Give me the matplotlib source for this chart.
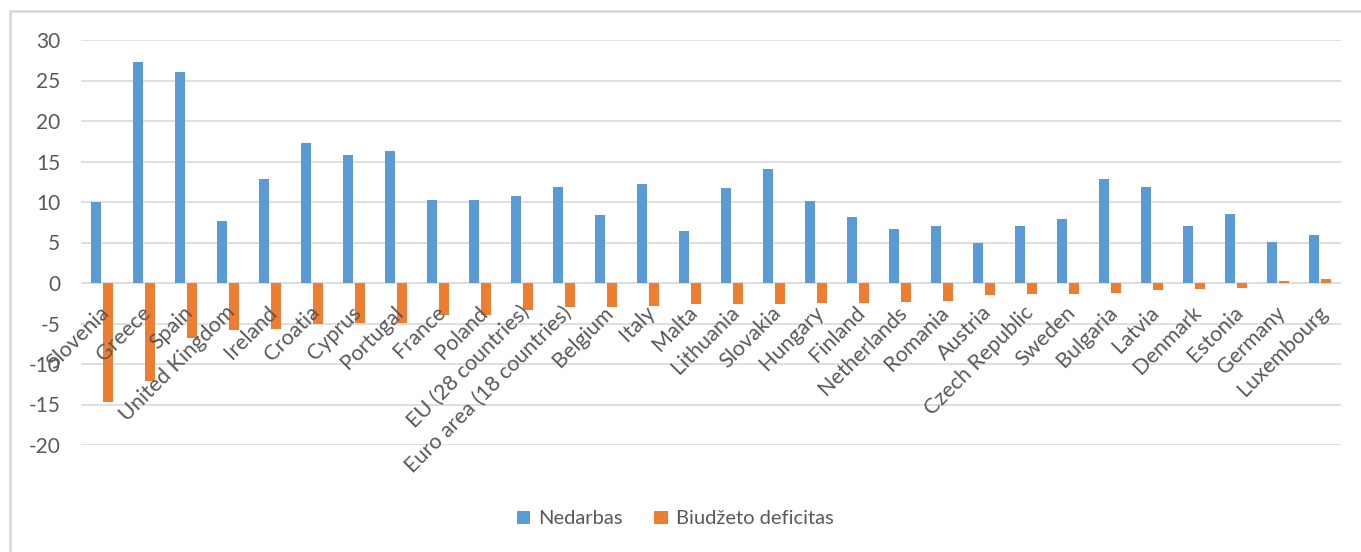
import matplotlib
matplotlib.use("Agg")
import matplotlib.pyplot as plt
import matplotlib.transforms as mtransforms
import numpy as np
from matplotlib.patches import Rectangle

# --- data ---
countries = ["Slovenia", "Greece", "Spain", "United Kingdom", "Ireland", "Croatia",
             "Cyprus", "Portugal", "France", "Poland", "EU (28 countries)",
             "Euro area (18 countries)", "Belgium", "Italy", "Malta", "Lithuania",
             "Slovakia", "Hungary", "Finland", "Netherlands", "Romania", "Austria",
             "Czech Republic", "Sweden", "Bulgaria", "Latvia", "Denmark", "Estonia",
             "Germany", "Luxembourg"]
unemployment = [10.0, 27.3, 26.0, 7.6, 12.9, 17.3, 15.8, 16.3, 10.3, 10.3, 10.8,
                11.8, 8.4, 12.2, 6.4, 11.7, 14.1, 10.1, 8.1, 6.7, 7.0, 4.9,
                7.0, 7.9, 12.9, 11.8, 7.0, 8.5, 5.1, 5.9]
deficit = [-14.7, -12.1, -6.8, -5.8, -5.7, -5.1, -4.9, -4.9, -4.0, -4.0, -3.3,
           -3.0, -3.0, -2.8, -2.6, -2.6, -2.6, -2.5, -2.5, -2.3, -2.2, -1.5,
           -1.3, -1.3, -1.2, -0.9, -0.7, -0.6, 0.2, 0.5]
series_names = ["Nedarbas", "Biudžeto deficitas"]
yticks = [-20, -15, -10, -5, 0, 5, 10, 15, 20, 25, 30]

BLUE = "#5B9BD5"
ORANGE = "#ED7D31"
GRID = "#D9D9D9"
TEXT = "#595959"

plt.rcParams['font.family'] = ['Lato', 'DejaVu Sans']

fig = plt.figure(figsize=(13.61, 5.52), dpi=100)
fig.patch.set_facecolor("white")
ax = fig.add_axes([81 / 1361, 1 - 445 / 552, (1341 - 81) / 1361, (445 - 40) / 552])

x = np.arange(len(countries))
w = 0.23
off = 0.14
ax.bar(x - off, unemployment, w, color=BLUE, label=series_names[0], zorder=3)
ax.bar(x + off, deficit, w, color=ORANGE, label=series_names[1], zorder=3)

ax.set_xlim(-0.5, len(countries) - 0.5)
ax.set_ylim(-20, 30)
ax.set_yticks(yticks)
ax.set_yticklabels([str(v) for v in yticks])
ax.set_xticks([])
ax.grid(axis='y', color=GRID, linewidth=1.2, zorder=0)
for s in ax.spines.values():
    s.set_visible(False)
ax.tick_params(axis='y', length=0, pad=15, labelsize=15, labelcolor=TEXT)

# category labels hanging below the zero line
trans = mtransforms.offset_copy(ax.transData, fig=fig, x=3, y=-19, units='points')
for i, name in enumerate(countries):
    ax.text(i, 0, name, rotation=45, rotation_mode='anchor', ha='right', va='center',
            fontsize=15.5, color=TEXT, transform=trans, zorder=4)

leg = fig.legend(loc='center', bbox_to_anchor=(675 / 1361, 1 - 519 / 552), ncol=2,
                 frameon=False, fontsize=14.5, handlelength=0.65, handleheight=0.65,
                 handletextpad=0.4, columnspacing=1.6)
for t in leg.get_texts():
    t.set_color(TEXT)

# outer chart frame
fig.patches.append(Rectangle((10 / 1361, -0.1), 1.2, 1 - 11 / 552 + 0.1,
                             transform=fig.transFigure, fill=False,
                             edgecolor=GRID, linewidth=2))

fig.savefig("out.png", dpi=100, facecolor="white")
